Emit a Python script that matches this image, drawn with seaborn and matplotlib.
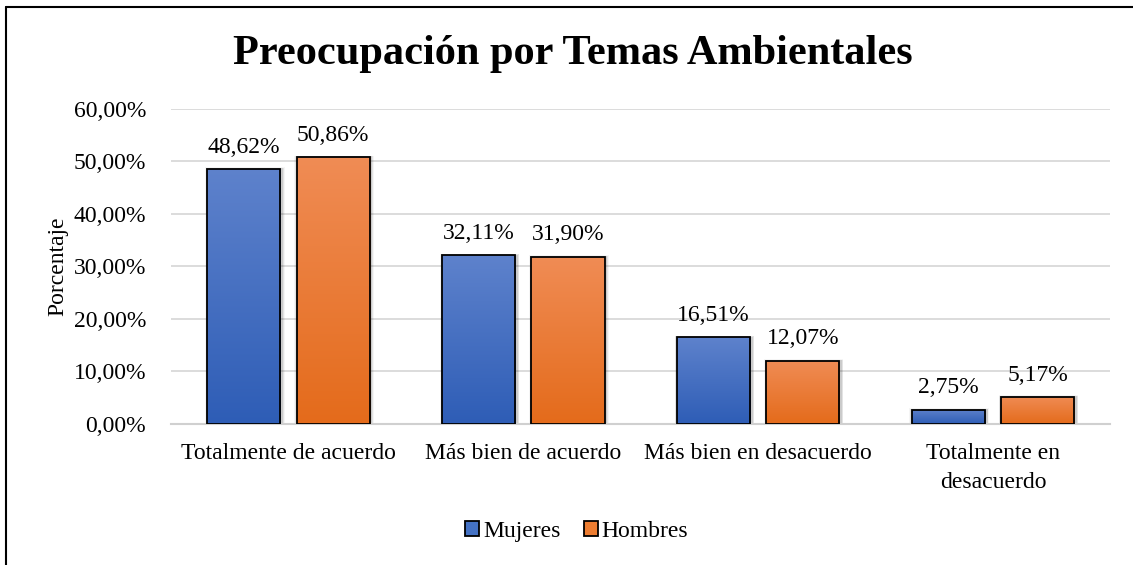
import numpy as np
import pandas as pd
import matplotlib
matplotlib.use("Agg")
import matplotlib.pyplot as plt
from matplotlib.ticker import FuncFormatter, MultipleLocator
from matplotlib.patches import Patch, Rectangle
from matplotlib.lines import Line2D
import seaborn as sns

categories = ["Totalmente de acuerdo", "Más bien de acuerdo", "Más bien en desacuerdo", "Totalmente en\ndesacuerdo"]
mujeres = [48.62, 32.11, 16.51, 2.75]
hombres = [50.86, 31.90, 12.07, 5.17]
series_names = ["Mujeres", "Hombres"]
title = "Preocupación por Temas Ambientales"
ylabel = "Porcentaje"

colors_top = ["#5E82CC", "#F08C55"]
colors_bottom = ["#2E5DB6", "#E46B1B"]
colors_mid = ["#4472C4", "#ED7D31"]

df = pd.DataFrame({
    "cat": categories * 2,
    "serie": [series_names[0]] * 4 + [series_names[1]] * 4,
    "val": mujeres + hombres,
})

sns.set_theme(style="white")
plt.rcParams["font.family"] = ["Liberation Serif", "DejaVu Serif"]
plt.rcParams["text.color"] = "black"
plt.rcParams["axes.labelcolor"] = "black"
plt.rcParams["xtick.color"] = "black"
plt.rcParams["ytick.color"] = "black"

fig = plt.figure(figsize=(11.33, 5.65), dpi=100)
ax = fig.add_axes([0.151, 0.2496, 0.829, 0.5575])

sns.barplot(data=df, x="cat", y="val", hue="serie", order=categories,
            hue_order=series_names, palette=colors_mid, width=0.76, gap=0.18,
            edgecolor="black", linewidth=1.3, ax=ax, legend=False, zorder=3)

ax.set_ylim(0, 60)
ax.yaxis.set_major_locator(MultipleLocator(10))
ax.yaxis.set_major_formatter(FuncFormatter(lambda v, p: f"{v:.2f}".replace(".", ",") + "%"))
ax.grid(axis="y", color="#D9D9D9", linewidth=1.3, zorder=0)
ax.set_axisbelow(True)
for s in ["top", "right", "left"]:
    ax.spines[s].set_visible(False)
ax.spines["bottom"].set_color("#D0D0D0")
ax.spines["bottom"].set_linewidth(1.5)
ax.tick_params(axis="both", length=0, labelsize=17, colors="black")
ax.tick_params(axis="x", pad=14)
ax.tick_params(axis="y", pad=18)
for t in ax.get_xticklabels():
    t.set_linespacing(1.45)
ax.set_xlabel("")
ax.set_ylabel(ylabel, fontsize=17, labelpad=4, color="black")
ax.set_xlim(-0.5, 3.5)

# gradient fill + shadow + labels
grad = np.linspace(0, 1, 256).reshape(-1, 1)
bars = [p for p in ax.patches if isinstance(p, Rectangle)]
for i, p in enumerate(bars):
    si = 0 if i < len(categories) else 1
    x0, w, h = p.get_x(), p.get_width(), p.get_height()
    # soft shadow
    for k, a in zip([0.012, 0.022, 0.032], [0.10, 0.07, 0.04]):
        sh = Rectangle((x0 - k * 0.3, 0), w + k * 0.6 + 0.008, h + k * 8,
                       facecolor="black", alpha=a, edgecolor="none", zorder=2)
        ax.add_patch(sh)
    c_top = np.array(matplotlib.colors.to_rgb(colors_top[si]))
    c_bot = np.array(matplotlib.colors.to_rgb(colors_bottom[si]))
    img = c_top[None, None, :] * (1 - grad[..., None]) + c_bot[None, None, :] * grad[..., None]
    im = ax.imshow(img, extent=[x0, x0 + w, 0, h], origin="upper", aspect="auto", zorder=3.5)
    im.set_clip_path(p)
    p.set_facecolor("none")
    p.set_zorder(4)
    ax.annotate(f"{h:.2f}".replace(".", ",") + "%", (x0 + w / 2, h),
                xytext=(0, 8), textcoords="offset points", ha="center", va="bottom",
                fontsize=17, color="black")
ax.set_xlim(-0.5, 3.5)
ax.set_ylim(0, 60)

fig.text(0.506, 0.905, title, ha="center", va="center", fontsize=30.5, fontweight="bold", color="black")

handles = [Patch(facecolor=colors_mid[i], edgecolor="black", linewidth=1.3) for i in range(2)]
fig.legend(handles, series_names, loc="center", bbox_to_anchor=(0.509, 0.06), ncol=2,
           frameon=False, fontsize=17, handlelength=0.6, handleheight=0.6,
           handletextpad=0.15, columnspacing=1.0, labelcolor="black")

# outer border (left and top)
fig.add_artist(Line2D([0.0057, 0.0057], [0, 0.988], transform=fig.transFigure, color="black", linewidth=1.5))
fig.add_artist(Line2D([0.0057, 1.0], [0.988, 0.988], transform=fig.transFigure, color="black", linewidth=1.5))

fig.savefig("out.png", dpi=100)
